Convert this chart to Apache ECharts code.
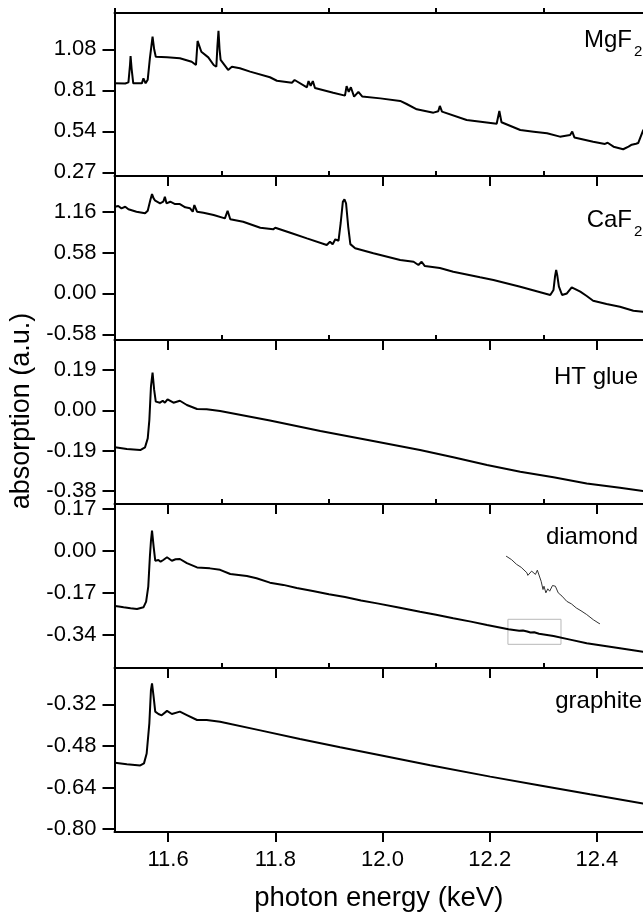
<!DOCTYPE html>
<html>
<head>
<meta charset="utf-8">
<script src="https://cdn.jsdelivr.net/npm/echarts@6/dist/echarts.min.js"></script>
<style>
  html, body { margin: 0; padding: 0; background: #fff; }
  #chart { width: 643px; height: 913px; }
</style>
</head>
<body>
<div id="chart"></div>
<script>
// Photon energy axis (keV), shared by all five spectra; the window ends just short of 12.5
const energyRange = [11.5, 12.486];
const energyTicks = [11.6, 11.8, 12.0, 12.2, 12.4];
const energyMinorTicks = [11.5, 11.7, 11.9, 12.1, 12.3];

// MgF2 window
const mgf2Range = [0.246, 1.319];
const mgf2Ticks = [0.27, 0.54, 0.81, 1.08];
const mgf2Minor = [0.405, 0.675, 0.945, 1.215];
const mgf2Data = [
  [11.500,0.857],[11.520,0.855],[11.526,0.862],[11.529,0.98],[11.530,1.036],[11.532,0.95],[11.535,0.856],
  [11.551,0.856],[11.554,0.889],[11.558,0.856],[11.562,0.880],[11.566,1.02],[11.571,1.163],[11.574,1.08],
  [11.577,1.031],[11.598,1.027],[11.622,1.021],[11.644,0.998],[11.652,0.977],[11.655,1.135],[11.662,1.064],
  [11.675,1.027],[11.685,0.977],[11.690,0.965],[11.692,1.10],[11.694,1.202],[11.696,1.08],[11.698,1.010],
  [11.712,0.944],[11.719,0.965],[11.734,0.955],[11.753,0.933],[11.790,0.896],[11.803,0.873],[11.831,0.860],
  [11.836,0.878],[11.859,0.830],[11.862,0.871],[11.866,0.840],[11.870,0.871],[11.874,0.825],[11.908,0.794],
  [11.930,0.775],[11.933,0.838],[11.937,0.800],[11.941,0.830],[11.947,0.768],[11.955,0.800],[11.962,0.770],
  [11.996,0.757],[12.033,0.740],[12.045,0.720],[12.064,0.685],[12.095,0.663],[12.104,0.672],[12.107,0.707],
  [12.111,0.670],[12.157,0.615],[12.213,0.590],[12.218,0.674],[12.222,0.600],[12.257,0.549],[12.282,0.538],
  [12.307,0.527],[12.331,0.505],[12.350,0.516],[12.354,0.538],[12.358,0.500],[12.393,0.472],[12.415,0.457],
  [12.420,0.465],[12.431,0.439],[12.449,0.422],[12.459,0.439],[12.465,0.452],[12.468,0.465],[12.473,0.458],
  [12.477,0.463],[12.486,0.544],[12.500,0.630]
];

// CaF2 window
const caf2Range = [-0.661, 1.667];
const caf2Ticks = [-0.58, 0.00, 0.58, 1.16];
const caf2Minor = [-0.29, 0.29, 0.87, 1.45];
const caf2Data = [
  [11.501,1.231],[11.507,1.241],[11.513,1.208],[11.520,1.231],[11.526,1.194],[11.541,1.160],[11.557,1.137],
  [11.562,1.174],[11.567,1.33],[11.570,1.411],[11.573,1.35],[11.576,1.316],[11.585,1.279],[11.591,1.302],
  [11.594,1.373],[11.597,1.279],[11.604,1.302],[11.613,1.269],[11.622,1.269],[11.632,1.222],[11.641,1.208],
  [11.646,1.160],[11.649,1.255],[11.654,1.160],[11.666,1.146],[11.685,1.113],[11.706,1.066],[11.711,1.174],
  [11.716,1.052],[11.740,1.018],[11.772,0.933],[11.796,0.910],[11.800,0.933],[11.828,0.862],[11.859,0.782],
  [11.896,0.687],[11.902,0.734],[11.907,0.697],[11.912,0.768],[11.918,0.748],[11.922,1.00],[11.926,1.30],
  [11.929,1.336],[11.932,1.28],[11.936,0.95],[11.940,0.700],[11.949,0.641],[11.983,0.570],[12.033,0.475],
  [12.058,0.450],[12.067,0.404],[12.073,0.450],[12.079,0.389],[12.107,0.360],[12.132,0.308],[12.182,0.229],
  [12.185,0.247],[12.207,0.191],[12.257,0.096],[12.313,-0.022],[12.319,0.049],[12.322,0.25],[12.324,0.333],
  [12.326,0.26],[12.329,0.10],[12.335,-0.022],[12.344,0.000],[12.353,0.087],[12.369,0.025],[12.381,-0.036],
  [12.393,-0.103],[12.418,-0.150],[12.443,-0.188],[12.468,-0.245],[12.486,-0.259],[12.500,-0.272]
];

// HT glue
const htGlueRange = [-0.441, 0.331];
const htGlueTicks = [-0.38, -0.19, 0.00, 0.19];
const htGlueMinor = [-0.285, -0.095, 0.095, 0.285];
const htGlueData = [
  [11.501,-0.174],[11.523,-0.182],[11.548,-0.187],[11.557,-0.174],[11.562,-0.132],[11.565,-0.046],
  [11.568,0.111],[11.571,0.177],[11.574,0.096],[11.577,0.041],[11.585,0.036],[11.590,0.045],[11.594,0.036],
  [11.599,0.052],[11.610,0.036],[11.622,0.045],[11.635,0.025],[11.654,0.006],[11.672,0.005],[11.697,-0.003],
  [11.790,-0.048],[11.884,-0.097],[11.980,-0.143],[12.070,-0.187],[12.132,-0.221],[12.195,-0.257],
  [12.257,-0.289],[12.319,-0.315],[12.381,-0.344],[12.443,-0.364],[12.486,-0.380],[12.500,-0.386]
];

// Diamond
const diamondRange = [-0.475, 0.190];
const diamondTicks = [-0.34, -0.17, 0.00, 0.17];
const diamondMinor = [-0.425, -0.255, -0.085, 0.085];
const diamondData = [
  [11.501,-0.224],[11.508,-0.226],[11.517,-0.229],[11.530,-0.233],[11.542,-0.236],[11.554,-0.229],
  [11.559,-0.206],[11.563,-0.145],[11.566,-0.024],[11.568,0.04],[11.570,0.082],[11.573,0.017],[11.576,-0.040],
  [11.582,-0.037],[11.586,-0.044],[11.591,-0.037],[11.598,-0.026],[11.607,-0.040],[11.614,-0.034],
  [11.622,-0.033],[11.635,-0.050],[11.654,-0.067],[11.678,-0.071],[11.697,-0.077],[11.716,-0.094],
  [11.747,-0.102],[11.765,-0.111],[11.790,-0.129],[11.815,-0.138],[11.840,-0.151],[11.870,-0.163],
  [11.900,-0.176],[11.930,-0.187],[11.960,-0.201],[11.990,-0.213],[12.030,-0.230],[12.070,-0.247],
  [12.100,-0.259],[12.132,-0.273],[12.165,-0.287],[12.195,-0.301],[12.235,-0.318],[12.255,-0.324],
  [12.262,-0.323],[12.270,-0.327],[12.276,-0.331],[12.283,-0.330],[12.292,-0.336],[12.319,-0.345],
  [12.350,-0.360],[12.381,-0.375],[12.412,-0.385],[12.443,-0.395],[12.486,-0.409],[12.500,-0.415]
];
// Magnified stretch of the diamond spectrum and the box it comes from
const zoomBoxEnergy = [12.234, 12.333];
const zoomBoxAbs = [-0.379, -0.2775];
const insetAbsRange = [-0.3468, -0.3180];
const diamondInsetData = [
  [12.234,-0.3180],[12.240,-0.3196],[12.245,-0.3215],[12.250,-0.3228],[12.256,-0.3251],[12.257,-0.3262],
  [12.261,-0.3244],[12.265,-0.3258],[12.267,-0.3240],[12.269,-0.3248],[12.271,-0.3287],[12.273,-0.3322],
  [12.274,-0.3308],[12.276,-0.3336],[12.278,-0.3319],[12.280,-0.3329],[12.283,-0.3305],[12.286,-0.3308],
  [12.289,-0.3336],[12.293,-0.3350],[12.298,-0.3372],[12.303,-0.3383],[12.308,-0.3400],[12.313,-0.3412],
  [12.319,-0.3428],[12.326,-0.3450],[12.333,-0.3468]
];

// Graphite
const graphiteRange = [-0.811, -0.180];
const graphiteTicks = [-0.80, -0.64, -0.48, -0.32];
const graphiteMinor = [-0.72, -0.56, -0.40, -0.24];
const graphiteData = [
  [11.501,-0.545],[11.523,-0.550],[11.548,-0.555],[11.555,-0.547],[11.560,-0.509],[11.565,-0.393],
  [11.568,-0.265],[11.570,-0.239],[11.573,-0.291],[11.576,-0.348],[11.582,-0.357],[11.588,-0.362],
  [11.598,-0.345],[11.607,-0.357],[11.622,-0.348],[11.635,-0.361],[11.654,-0.380],[11.672,-0.380],
  [11.697,-0.387],[11.772,-0.420],[11.846,-0.453],[11.921,-0.485],[11.996,-0.516],[12.089,-0.554],
  [12.201,-0.598],[12.294,-0.632],[12.387,-0.666],[12.486,-0.701],[12.500,-0.706]
];

const FONT = "'Liberation Sans', Arial, Helvetica, sans-serif";
const AXIS_LINE = { show: true, onZero: false, lineStyle: { color: '#000', width: 2 } };

const panels = [
  { label: 'MgF',      sub: '2', data: mgf2Data,     range: mgf2Range,     ticks: mgf2Ticks,     minor: mgf2Minor,     top: 13,  height: 163, lx: 632, ly: 40 },
  { label: 'CaF',      sub: '2', data: caf2Data,     range: caf2Range,     ticks: caf2Ticks,     minor: caf2Minor,     top: 176, height: 164, lx: 632, ly: 220 },
  { label: 'HT glue',  sub: '',  data: htGlueData,   range: htGlueRange,   ticks: htGlueTicks,   minor: htGlueMinor,   top: 340, height: 164, lx: 638, ly: 377 },
  { label: 'diamond',  sub: '',  data: diamondData,  range: diamondRange,  ticks: diamondTicks,  minor: diamondMinor,  top: 504, height: 164, lx: 638, ly: 537 },
  { label: 'graphite', sub: '',  data: graphiteData, range: graphiteRange, ticks: graphiteTicks, minor: graphiteMinor, top: 668, height: 164, lx: 642, ly: 701 }
];

const PLOT_LEFT = 114.5;
const grids = [], xAxes = [], yAxes = [], series = [], graphics = [];

panels.forEach((p, i) => {
  const last = i === panels.length - 1;
  grids.push({ left: PLOT_LEFT, right: 0, top: p.top, height: p.height, show: false });
  // major energy ticks (+ labels on the bottom panel)
  xAxes.push({
    type: 'value', gridIndex: i, min: energyRange[0], max: energyRange[1],
    axisLine: AXIS_LINE,
    splitLine: { show: false },
    axisTick: { show: true, length: 10, customValues: energyTicks, lineStyle: { color: '#000', width: 2 } },
    axisLabel: { show: last, customValues: energyTicks, margin: 17, color: '#000',
                 fontSize: 22, fontFamily: FONT, formatter: v => v.toFixed(1) },
    name: last ? 'photon energy (keV)' : '',
    nameLocation: 'middle', nameGap: 52,
    nameTextStyle: { fontSize: 27.5, fontFamily: FONT, color: '#000' }
  });
  // minor energy ticks
  xAxes.push({
    type: 'value', gridIndex: i, min: energyRange[0], max: energyRange[1],
    axisLine: { show: false, onZero: false }, splitLine: { show: false },
    axisTick: { show: true, length: 5, customValues: energyMinorTicks, lineStyle: { color: '#000', width: 2 } },
    axisLabel: { show: false }
  });
  yAxes.push({
    type: 'value', gridIndex: i, min: p.range[0], max: p.range[1],
    axisLine: AXIS_LINE, splitLine: { show: false },
    axisTick: { show: true, length: 12, customValues: p.ticks, lineStyle: { color: '#000', width: 2 } },
    axisLabel: { show: true, customValues: p.ticks, margin: 18, color: '#000',
                 fontSize: 22, fontFamily: FONT, formatter: v => v.toFixed(2) }
  });
  yAxes.push({
    type: 'value', gridIndex: i, min: p.range[0], max: p.range[1],
    axisLine: { show: false, onZero: false }, splitLine: { show: false },
    axisTick: { show: true, length: 6, customValues: p.minor, lineStyle: { color: '#000', width: 2 } },
    axisLabel: { show: false }
  });
  const s = {
    type: 'line', xAxisIndex: 2 * i, yAxisIndex: 2 * i, data: p.data,
    showSymbol: false, symbol: 'none', silent: true, clip: true,
    lineStyle: { color: '#000', width: 2 }, z: 3
  };
  if (p.label === 'diamond') {
    s.markArea = {
      silent: true,
      itemStyle: { color: 'rgba(0,0,0,0)', borderColor: '#b8b8b8', borderWidth: 1 },
      data: [[{ xAxis: zoomBoxEnergy[0], yAxis: zoomBoxAbs[1] }, { xAxis: zoomBoxEnergy[1], yAxis: zoomBoxAbs[0] }]]
    };
  }
  series.push(s);

  graphics.push({ type: 'text', x: p.lx, y: p.ly, z: 10,
    style: { text: p.label, fontSize: 24, fontFamily: FONT, fill: '#000', align: 'right', verticalAlign: 'middle' } });
  if (p.sub) {
    graphics.push({ type: 'text', x: p.lx + 2, y: p.ly + 12, z: 10,
      style: { text: p.sub, fontSize: 15, fontFamily: FONT, fill: '#000', align: 'left', verticalAlign: 'middle' } });
  }
});

// closing frame line along the top of the first panel
xAxes.push({
  type: 'value', gridIndex: 0, position: 'top', min: energyRange[0], max: energyRange[1],
  axisLine: AXIS_LINE, axisTick: { show: false }, axisLabel: { show: false }, splitLine: { show: false }
});

// inset: magnified diamond trace
const insetGrid = grids.length;
grids.push({ left: 506, top: 556, width: 94, height: 68, show: false });
xAxes.push({ type: 'value', gridIndex: insetGrid, min: zoomBoxEnergy[0], max: zoomBoxEnergy[1], show: false });
yAxes.push({ type: 'value', gridIndex: insetGrid, min: insetAbsRange[0], max: insetAbsRange[1], show: false });
series.push({
  type: 'line', xAxisIndex: xAxes.length - 1, yAxisIndex: yAxes.length - 1, data: diamondInsetData,
  showSymbol: false, symbol: 'none', silent: true, lineStyle: { color: '#333', width: 1 }, z: 4
});

// shared ordinate title
graphics.push({ type: 'text', x: 22, y: 411, rotation: Math.PI / 2, z: 10,
  style: { text: 'absorption (a.u.)', fontSize: 27, fontFamily: FONT, fill: '#000', align: 'center', verticalAlign: 'middle' } });

const chart = echarts.init(document.getElementById('chart'), null, { renderer: 'canvas' });
chart.setOption({
  animation: false,
  backgroundColor: '#fff',
  grid: grids,
  xAxis: xAxes,
  yAxis: yAxes,
  series: series,
  graphic: graphics
});
</script>
</body>
</html>
